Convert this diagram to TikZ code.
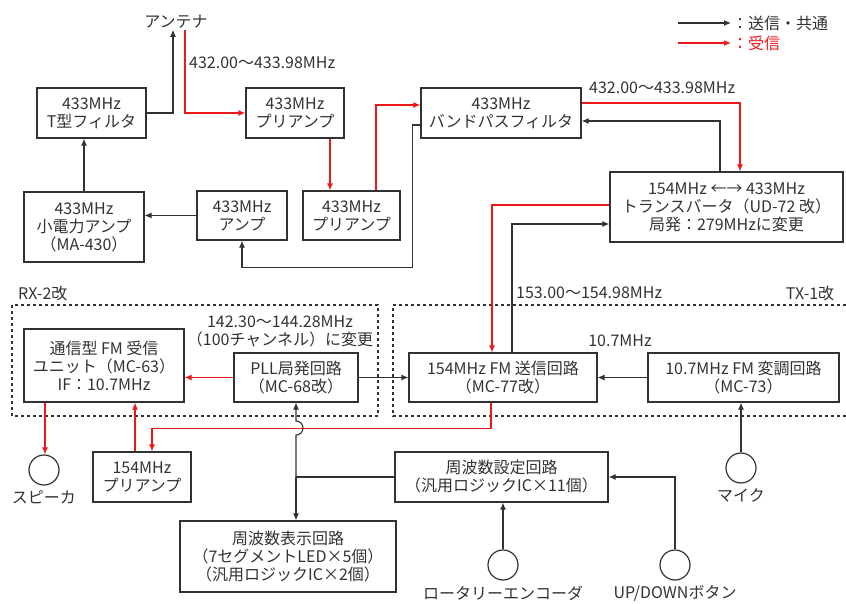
\documentclass[tikz,border=0pt]{standalone}
\usepackage{fontspec}
\setmainfont{Noto Sans CJK JP}
\usepackage{tikz}
\usepackage{xcolor}
\usetikzlibrary{arrows.meta, positioning, calc}

\definecolor{ink}{RGB}{50,50,50}
\definecolor{rxred}{RGB}{235,25,25}

\begin{document}
\begin{tikzpicture}[
    x=1pt, y=-1pt,
    font=\fontsize{16}{18}\selectfont,
    node distance=4pt,
    block/.style={draw=ink, rectangle, line width=1.2pt, align=center, inner sep=2pt, text=ink},
    size/.style 2 args={minimum width=#1pt, minimum height=#2pt},
    port/.style={draw=ink, circle, line width=1.2pt, minimum size=30pt, inner sep=0pt},
    lbl/.style={text=ink, inner sep=1pt, align=center},
    arrow/.style={-{Latex[length=7pt,width=6pt]}, draw=ink, line width=1.1pt},
    rxarrow/.style={-{Latex[length=7pt,width=6pt]}, draw=rxred, line width=1.1pt},
    frame/.style={draw=ink, dashed, line width=1.1pt}
]
    \useasboundingbox (0,0) rectangle (846,604);

    % legend
    \node[lbl, anchor=west] (leg1) at (731,23) {：送信・共通};
    \node[lbl, anchor=west, text=rxred] (leg2) at (731,43) {：受信};
    \coordinate (leg1t) at (678,23);
    \coordinate (leg2t) at (678,43);
    \draw[arrow] (leg1t) -- (leg1.west);
    \draw[rxarrow] (leg2t) -- (leg2.west);

    % 433MHz side
    \node[lbl] (ant) at (176,22) {アンテナ};
    \node[block, size={109}{50}] (tfil) at (91.5,113) {433MHz\\T型フィルタ};
    \node[block, size={98}{50}] (pre1) at (295,113) {433MHz\\プリアンプ};
    \node[block, size={160}{50}] (bpf) at (501,113) {433MHz\\バンドパスフィルタ};
    \node[block, size={97}{49}] (pre2) at (351.5,215.5) {433MHz\\プリアンプ};
    \node[block, size={90}{49}] (amp) at (242,215.5) {433MHz\\アンプ};
    \node[block, size={120}{70}] (mamp) at (84,227) {433MHz\\小電力アンプ\\（MA-430）};
    \node[block, size={233}{70}] (trv) at (726.5,207) {154MHz ←→ 433MHz\\トランスバータ（UD-72 改）\\局発：279MHzに変更};
    \node[lbl, anchor=west] (f433a) at (188,63) {432.00～433.98MHz};
    \node[lbl, anchor=west] (f433b) at (588,88) {432.00～433.98MHz};

    % RX-2 / TX-1 units
    \draw[frame] (12,305) rectangle (378,416);
    \draw[frame] (846,305) -- (393,305) -- (393,416) -- (846,416);
    \node[lbl, anchor=west] (rxname) at (17,293) {RX-2改};
    \node[lbl] (txname) at (810,293) {TX-1改};
    \node[lbl, anchor=west] (f154) at (515,293) {153.00～154.98MHz};
    \node[lbl] (f144) at (280,331) {142.30～144.28MHz\\（100チャンネル）に変更};
    \node[lbl] (fif) at (620,341) {10.7MHz};
    \node[block, size={160}{73}] (mc63) at (104,365.5) {通信型 FM 受信\\ユニット（MC-63）\\IF：10.7MHz};
    \node[block, size={124}{49}] (pll) at (296,377.5) {PLL局発回路\\（MC-68改）};
    \node[block, size={188}{49}] (mc77) at (503,377.5) {154MHz FM 送信回路\\（MC-77改）};
    \node[block, size={191}{49}] (mc73) at (743.5,377.5) {10.7MHz FM 変調回路\\（MC-73）};

    % lower part
    \node[block, size={98}{50}] (pre154) at (142,477) {154MHz\\プリアンプ};
    \node[block, size={213}{50}] (fset) at (501.5,477) {周波数設定回路\\（汎用ロジックIC×11個）};
    \node[block, size={216}{71}] (disp) at (288,556.5) {周波数表示回路\\（7セグメントLED×5個）\\（汎用ロジックIC×2個）};
    \node[port] (spk) at (44,470) {};
    \node[port] (mic) at (741,468) {};
    \node[port] (rot) at (503,565) {};
    \node[port] (ud) at (675,565) {};
    \node[lbl, below=4pt of spk] (spkl) {スピーカ};
    \node[lbl, below=4pt of mic] (micl) {マイク};
    \node[lbl, below=4pt of rot] (rotl) {ロータリーエンコーダ};
    \node[lbl, below=4pt of ud] (udl) {UP/DOWNボタン};

    % transmit / common
    \draw[arrow] (tfil.east) -| ([xshift=-3pt]ant.south);
    \draw[arrow] (mamp.north) -- (mamp.north |- tfil.south);
    \draw[arrow] (amp.west) -- (amp.west -| mamp.east);
    \draw[arrow] ([yshift=-12pt]bpf.west) -- ++(-8,0) |- ([yshift=-27pt]amp.south) -- (amp.south);
    \draw[arrow] ([xshift=-6.5pt]trv.north) |- ([yshift=-8pt]bpf.east);
    \draw[arrow] ([xshift=9pt]mc77.north) |- ([yshift=-17pt]trv.west);
    \draw[arrow] (pll.east) -- (mc77.west);
    \draw[arrow] (mc73.west) -- (mc77.east);
    \draw[arrow] (mic.north) -- (mic.north |- mc73.south);
    \draw[arrow] (rot.north) -- (rot.north |- fset.south);
    \draw[arrow] (ud.north) |- (fset.east);
    \coordinate (jn) at (pll.south |- fset.west);
    \draw[ink, line width=1.1pt] (fset.west) -- (jn);
    \draw[arrow] (jn) -- (jn |- disp.north);

    % receive
    \draw[rxarrow] ([xshift=9pt]ant.south) |- (pre1.west);
    \draw[rxarrow] ([xshift=35pt]pre1.south) -- ([xshift=35pt]pre1.south |- pre2.north);
    \draw[rxarrow] ([xshift=24.5pt]pre2.north) |- ([yshift=8pt]bpf.west);
    \draw[rxarrow] ([yshift=10pt]bpf.east) -| ([xshift=13.5pt]trv.north);
    \draw[rxarrow] ([yshift=2pt]trv.west) -| ([xshift=-11pt]mc77.north);
    \draw[rxarrow] (pll.west) -- (pll.west -| mc63.east);
    \draw[rxarrow] ([xshift=-59pt]mc63.south) -- ([xshift=-59pt]mc63.south |- spk.north);
    \draw[rxarrow] ([xshift=-7pt]pre154.north) -- ([xshift=-7pt]pre154.north |- mc63.south);
    \draw[rxarrow] ([xshift=-12pt]mc77.south) -- ++(0,26) -| ([xshift=10pt]pre154.north);

    % control line hopping over the red line
    \draw[arrow] (jn) -- ++(0,-42) arc[start angle=-90, end angle=90, radius=7pt] -- (pll.south);
\end{tikzpicture}
\end{document}
